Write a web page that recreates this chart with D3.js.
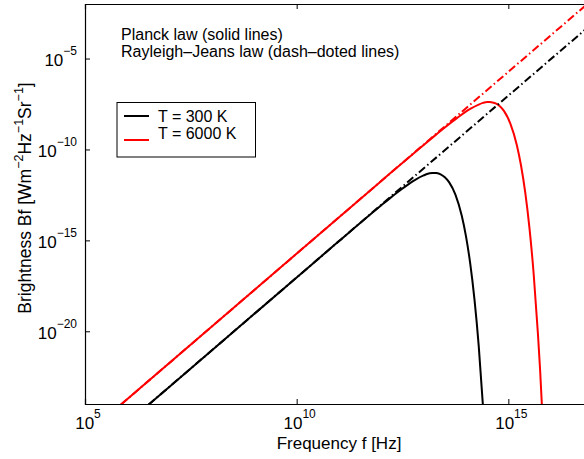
<!DOCTYPE html>
<html>
<head>
<meta charset="utf-8">
<script src="https://cdn.jsdelivr.net/npm/d3@7"></script>
<style>
  body { margin: 0; background: #fff; }
  text { font-family: "Liberation Sans", Arial, sans-serif; fill: #000; }
</style>
</head>
<body>
<svg></svg>
<script>
// values, as log10(frequency [Hz]) and log10(brightness)
const planck300LogF = [6.5, 8, 10, 11, 12, 12.2, 12.5, 12.8, 13, 13.1, 13.2, 13.25, 13.3, 13.4, 13.5, 13.6, 13.75, 13.9, 14, 14.1, 14.2, 14.3, 14.4, 14.45];
const planck300LogB = [-24.04, -21.04, -17.04, -15.04, -13.07, -12.69, -12.15, -11.67, -11.43, -11.34, -11.30, -11.29, -11.30, -11.37, -11.53, -11.80, -12.49, -13.65, -14.78, -16.28, -18.24, -20.79, -24.08, -26.0];
const planck6000LogF = [5.85, 9, 12, 13, 13.3, 13.5, 13.8, 14.1, 14.3, 14.4, 14.5, 14.55, 14.6, 14.7, 14.8, 14.9, 15.05, 15.2, 15.3, 15.4, 15.5, 15.6, 15.7, 15.75, 15.8];
const planck6000LogB = [-24.03, -17.73, -11.73, -9.75, -9.17, -8.79, -8.25, -7.77, -7.53, -7.44, -7.39, -7.39, -7.40, -7.47, -7.62, -7.89, -8.59, -9.75, -10.88, -12.38, -14.34, -16.89, -20.18, -22.1, -24.4];
const rj300LogF = [6.5, 17];
const rj300LogB = [-24.04, -3.04];
const rj6000LogF = [5.85, 17];
const rj6000LogB = [-24.03, -1.73];

const xTicks = [5, 10, 15];
const yTicks = [-5, -10, -15, -20];
const legendLabels = ["T = 300 K", "T = 6000 K"];
const colors = ["#000000", "#ff0000"];

const svg = d3.select("svg")
  .attr("width", 584)
  .attr("height", 459);

const margin = {top: 4, left: 85, bottom: 404, right: 593};

const x = d3.scaleLog().domain([1e5, 1e17]).range([margin.left, margin.right]);
const y = d3.scaleLog().domain([1e-24, 1e-2]).range([margin.bottom, margin.top]);

const toPoints = (lf, lb) => lf.map((f, i) => [Math.pow(10, f), Math.pow(10, lb[i])]);

svg.append("defs").append("clipPath").attr("id", "plotclip")
  .append("rect")
    .attr("x", margin.left).attr("y", margin.top)
    .attr("width", margin.right - margin.left).attr("height", margin.bottom - margin.top);

const line = d3.line()
  .x(d => x(d[0]))
  .y(d => y(d[1]))
  .curve(d3.curveMonotoneX);

const g = svg.append("g").attr("clip-path", "url(#plotclip)");

const solid = [toPoints(planck300LogF, planck300LogB), toPoints(planck6000LogF, planck6000LogB)];
const dashed = [toPoints(rj300LogF, rj300LogB), toPoints(rj6000LogF, rj6000LogB)];

solid.forEach((pts, i) => {
  g.append("path").datum(pts)
    .attr("d", line)
    .attr("fill", "none")
    .attr("stroke", colors[i])
    .attr("stroke-width", 2);
});
dashed.forEach((pts, i) => {
  g.append("path").datum(pts)
    .attr("d", line)
    .attr("fill", "none")
    .attr("stroke", colors[i])
    .attr("stroke-width", 2)
    .attr("stroke-dasharray", "8,3,1.5,3");
});

// axes box
const xAxisB = d3.axisBottom(x).tickValues(xTicks.map(t => Math.pow(10, t))).tickSize(-5).tickFormat("");
const xAxisT = d3.axisTop(x).tickValues(xTicks.map(t => Math.pow(10, t))).tickSize(-5).tickFormat("");
const yAxisL = d3.axisLeft(y).tickValues(yTicks.map(t => Math.pow(10, t))).tickSize(-5).tickFormat("");

[svg.append("g").attr("transform", `translate(0,${margin.bottom})`).call(xAxisB),
 svg.append("g").attr("transform", `translate(0,${margin.top})`).call(xAxisT),
 svg.append("g").attr("transform", `translate(${margin.left},0)`).call(yAxisL)]
  .forEach(a => {
    a.select(".domain").attr("stroke", "#000").attr("stroke-width", 1.2);
    a.selectAll(".tick line").attr("stroke", "#000");
  });

// tick labels with superscripts
xTicks.forEach(t => {
  const txt = svg.append("text")
    .attr("x", x(Math.pow(10, t)) + 3)
    .attr("y", 429)
    .attr("text-anchor", "middle")
    .attr("font-size", 17);
  txt.append("tspan").text("10");
  txt.append("tspan").attr("dy", -11).attr("font-size", 12).text(t);
});
yTicks.forEach(t => {
  const txt = svg.append("text")
    .attr("x", 77)
    .attr("y", y(Math.pow(10, t)) + 7.5)
    .attr("text-anchor", "end")
    .attr("font-size", 17);
  txt.append("tspan").text("10");
  txt.append("tspan").attr("dy", -11).attr("font-size", 12).text("\u2212" + (-t));
});

// axis labels
svg.append("text")
  .attr("x", (margin.left + margin.right) / 2)
  .attr("y", 449)
  .attr("text-anchor", "middle")
  .attr("font-size", 17)
  .text("Frequency f [Hz]");

const yl = svg.append("text")
  .attr("transform", "translate(31,198) rotate(-90)")
  .attr("text-anchor", "middle")
  .attr("font-size", 17.5);
yl.append("tspan").text("Brightness Bf [Wm");
yl.append("tspan").attr("dy", -8).attr("font-size", 12.5).text("\u22122");
yl.append("tspan").attr("dy", 8).text("Hz");
yl.append("tspan").attr("dy", -8).attr("font-size", 12.5).text("\u22121");
yl.append("tspan").attr("dy", 8).text("Sr");
yl.append("tspan").attr("dy", -8).attr("font-size", 12.5).text("\u22121");
yl.append("tspan").attr("dy", 8).text("]");

// annotation
svg.append("text").attr("x", 121).attr("y", 40).attr("font-size", 16)
  .text("Planck law (solid lines)");
svg.append("text").attr("x", 121).attr("y", 57).attr("font-size", 16)
  .text("Rayleigh\u2013Jeans law (dash\u2013doted lines)");

// legend
const legend = svg.append("g");
legend.append("rect")
  .attr("x", 117).attr("y", 102.5).attr("width", 138.5).attr("height", 54.5)
  .attr("fill", "#fff").attr("stroke", "#000").attr("stroke-width", 1);
legendLabels.forEach((lab, i) => {
  const ly = 116 + i * 24;
  legend.append("line")
    .attr("x1", 124).attr("x2", 149).attr("y1", ly).attr("y2", ly)
    .attr("stroke", colors[i]).attr("stroke-width", 2);
  legend.append("text")
    .attr("x", 158).attr("y", 121.5 + i * 17)
    .attr("font-size", 16)
    .text(lab);
});
</script>
</body>
</html>
